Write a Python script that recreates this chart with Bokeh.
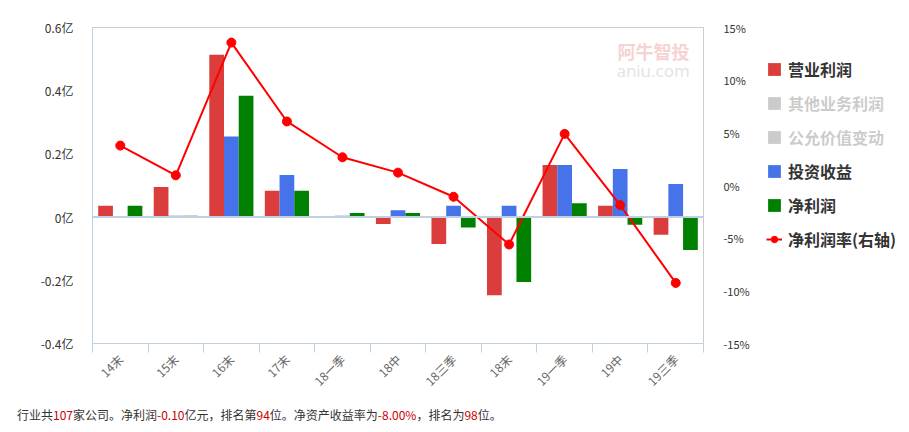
import math
from bokeh.plotting import figure
from bokeh.models import (Range1d, LinearAxis, FixedTicker, CustomJSTickFormatter, Span,
                          Legend, LegendItem, Label, Div, ColumnDataSource)
from bokeh.layouts import column, row
from bokeh.transform import dodge
from bokeh.embed import file_html
from bokeh.resources import INLINE

# ---------------- data ----------------
categories = ["14末", "15末", "16末", "17末", "18一季", "18中", "18三季", "18末", "19一季", "19中", "19三季"]
operating_profit = [0.036, 0.095, 0.514, 0.083, 0.0, -0.022, -0.085, -0.247, 0.165, 0.036, -0.056]
other_business_profit = [0.0] * 11   # hidden series
fair_value_change = [0.0] * 11       # hidden series
investment_income = [0.0, 0.004, 0.255, 0.133, 0.004, 0.022, 0.036, 0.036, 0.165, 0.152, 0.105]
net_profit = [0.036, 0.004, 0.384, 0.083, 0.013, 0.013, -0.033, -0.205, 0.044, -0.024, -0.104]
net_margin = [3.79, 0.97, 13.57, 6.08, 2.68, 1.22, -1.07, -5.6, 4.9, -1.86, -9.25]

left_ticks = [-0.4, -0.2, 0, 0.2, 0.4, 0.6]
right_ticks = [-15, -10, -5, 0, 5, 10, 15]

industry_count = "107"
net_profit_text = "-0.10"
net_profit_rank = "94"
roe_text = "-8.00%"
roe_rank = "98"

series_names = ["营业利润", "其他业务利润", "公允价值变动", "投资收益", "净利润", "净利润率(右轴)"]

FONT = "Noto Sans CJK SC"
RED = "#db3c3c"
BLUE = "#4673ea"
GREEN = "#008000"
LINE_RED = "#ff0000"
HIDDEN = "#333333"

centers = [i + 0.5 for i in range(len(categories))]
boundaries = list(range(len(categories) + 1))

src = ColumnDataSource(dict(
    x=centers, op=operating_profit, ob=other_business_profit, fv=fair_value_change,
    inv=investment_income, net=net_profit, margin=net_margin))

p = figure(width=760, height=400, output_backend="svg", toolbar_location=None,
           x_range=Range1d(0, len(categories)), y_range=Range1d(-0.4, 0.6),
           min_border_left=92, min_border_top=27, min_border_right=57, min_border_bottom=57)
p.extra_y_ranges = {"pct": Range1d(-15, 15)}
p.xgrid.visible = False
p.ygrid.visible = False
p.outline_line_color = "#cccccc"
p.background_fill_color = "white"

# x axis
xa = p.xaxis[0]
xa.ticker = FixedTicker(ticks=centers, minor_ticks=boundaries)
xa.major_label_overrides = {c: lab for c, lab in zip(centers, categories)}
xa.major_tick_in = 0
xa.major_tick_out = 0
xa.minor_tick_in = 0
xa.minor_tick_out = 9
xa.minor_tick_line_color = "#c0d0e0"
xa.axis_line_color = "#c0d0e0"
xa.major_label_orientation = math.pi / 4
xa.major_label_text_color = "#666666"
xa.major_label_text_font_size = "12px"
xa.major_label_text_font = FONT
xa.major_label_standoff = 4

# left axis
ya = p.yaxis[0]
ya.ticker = FixedTicker(ticks=left_ticks)
ya.formatter = CustomJSTickFormatter(code="return (Math.round(tick*10)/10) + '亿';")
ya.major_tick_line_color = None
ya.minor_tick_line_color = None
ya.axis_line_color = "#c0d0e0"
ya.major_label_text_font_size = "12px"
ya.major_label_text_font = FONT
ya.major_label_text_color = "#333333"
ya.major_label_standoff = 13

# right axis
ra = LinearAxis(y_range_name="pct", ticker=FixedTicker(ticks=right_ticks),
                formatter=CustomJSTickFormatter(code="return Math.round(tick) + '%';"))
ra.axis_line_color = None
ra.major_tick_line_color = None
ra.minor_tick_line_color = None
ra.major_label_text_font_size = "11px"
ra.major_label_text_font = FONT
ra.major_label_text_color = "#333333"
ra.major_label_standoff = 14
p.add_layout(ra, "right")

# zero line
p.add_layout(Span(location=0, dimension="width", line_color="#c0d0e0", line_width=2))

# watermark
p.add_layout(Label(x=10.75, y=0.525, text="阿牛智投", text_align="right", text_baseline="middle",
                   text_color="#f6d2d2", text_font_size="18px", text_font_style="bold", text_font=FONT))
p.add_layout(Label(x=10.75, y=0.465, text="aniu.com", text_align="right", text_baseline="middle",
                   text_color="#e2e2e2", text_font_size="17px", text_font="Open Sans"))

W = 0.265
p.vbar(x=dodge("x", -W, range=p.x_range), top="op", width=W, source=src, fill_color=RED, line_color=None)
p.vbar(x="x", top="inv", width=W, source=src, fill_color=BLUE, line_color=None)
p.vbar(x=dodge("x", W, range=p.x_range), top="net", width=W, source=src, fill_color=GREEN, line_color=None)
p.line(x="x", y="margin", source=src, y_range_name="pct", line_color=LINE_RED, line_width=2)
p.scatter(x="x", y="margin", source=src, y_range_name="pct", size=9, fill_color=LINE_RED, line_color=LINE_RED)

# ---------------- legend panel (separate figure beside the chart) ----------------
lp = figure(width=140, height=400, output_backend="svg", toolbar_location=None,
            x_range=Range1d(0, 1), y_range=Range1d(0, 1),
            min_border_left=0, min_border_right=0, min_border_top=27, min_border_bottom=57)
lp.axis.visible = False
lp.grid.visible = False
lp.outline_line_color = None
# legend swatches only: a single point placed outside the visible range
far = ColumnDataSource(dict(x=[50], y=[50]))
g_op = lp.vbar(x="x", top="y", width=0.1, source=far, fill_color=RED, line_color=None)
g_ob = lp.vbar(x="x", top="y", width=0.1, source=far, fill_color=HIDDEN, line_color=None, visible=False)
g_fv = lp.vbar(x="x", top="y", width=0.1, source=far, fill_color=HIDDEN, line_color=None, visible=False)
g_inv = lp.vbar(x="x", top="y", width=0.1, source=far, fill_color=BLUE, line_color=None)
g_net = lp.vbar(x="x", top="y", width=0.1, source=far, fill_color=GREEN, line_color=None)
g_line = lp.line(x="x", y="y", source=far, line_color=LINE_RED, line_width=2)
g_pts = lp.scatter(x="x", y="y", source=far, size=9, fill_color=LINE_RED, line_color=LINE_RED)

legend = Legend(items=[
    LegendItem(label=series_names[0], renderers=[g_op]),
    LegendItem(label=series_names[1], renderers=[g_ob]),
    LegendItem(label=series_names[2], renderers=[g_fv]),
    LegendItem(label=series_names[3], renderers=[g_inv]),
    LegendItem(label=series_names[4], renderers=[g_net]),
    LegendItem(label=series_names[5], renderers=[g_line, g_pts]),
], location=(6, 92))
legend.click_policy = "hide"
legend.label_text_font = FONT
legend.label_text_font_size = "16px"
legend.label_text_font_style = "bold"
legend.label_text_color = "#333333"
legend.glyph_width = 16
legend.glyph_height = 16
legend.label_height = 16
legend.spacing = 10
legend.label_standoff = 6
legend.border_line_color = None
legend.background_fill_alpha = 0
legend.inactive_fill_color = "white"
legend.inactive_fill_alpha = 0.75
legend.margin = 0
legend.padding = 0
lp.add_layout(legend)

RC = "#cc0000"
html = (
    '<div style="padding:1px 0 0 12px; font-size:12px; color:#333333; font-family:\'Noto Sans CJK SC\'; white-space:nowrap;">'
    f'行业共<span style="color:{RC}">{industry_count}</span>家公司。净利润'
    f'<span style="color:{RC}">{net_profit_text}</span>亿元，排名第'
    f'<span style="color:{RC}">{net_profit_rank}</span>位。净资产收益率为'
    f'<span style="color:{RC}">{roe_text}</span>，排名为'
    f'<span style="color:{RC}">{roe_rank}</span>位。</div>'
)
div = Div(text=html, width=893, height=30)

layout = column(row(p, lp), div)
open("out.html", "w").write(file_html(layout, INLINE))
